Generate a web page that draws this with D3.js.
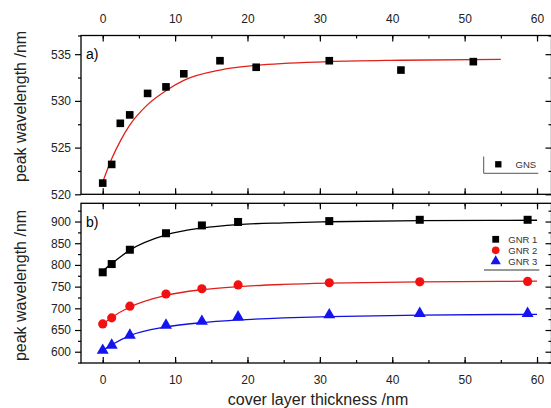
<!DOCTYPE html>
<html>
<head>
<meta charset="utf-8">
<script src="https://cdn.jsdelivr.net/npm/d3@7"></script>
<style>
  body { margin: 0; background: #fff; }
  svg { display: block; font-family: "Liberation Sans", Arial, sans-serif; }
</style>
</head>
<body>
<div id="chart"></div>
<script>
// ---- data ----
var xTicks = [0, 10, 20, 30, 40, 50, 60];

// panel a) GNS
var gnsX = [0, 1.24, 2.43, 3.73, 6.2, 8.74, 11.2, 16.2, 21.2, 31.3, 41.2, 51.2];
var gnsY = [521.2, 523.2, 527.6, 528.5, 530.8, 531.5, 532.9, 534.3, 533.6, 534.3, 533.3, 534.2];
var gnsFitX = [0, 1.24, 2.5, 3.73, 6.2, 8.74, 11.2, 16.2, 21.2, 31.3, 41.2, 55];
var gnsFitY = [521.3, 523.8, 525.8, 527.4, 529.6, 531.1, 532.2, 533.3, 533.8, 534.2, 534.35, 534.45];
var aTicks = [520, 525, 530, 535];

// panel b) GNR 1-3
var gnrX = [0, 1.24, 3.75, 8.74, 13.7, 18.7, 31.3, 43.8, 58.7];
var gnr1 = [783, 802, 835, 873, 891, 899, 901, 904, 904];
var gnr2 = [664, 678, 705, 733, 745, 754, 759, 761, 762];
var gnr3 = [603, 615, 638, 661, 670, 680, 685, 688, 688];
var fitX = [0, 1.24, 3.75, 8.74, 13.7, 18.7, 25, 31.3, 43.8, 60];
var fit1 = [786, 803, 834, 869, 885, 893, 897, 899.5, 902, 903];
var fit2 = [664, 679, 703, 730, 743, 750, 755, 758, 761, 762.5];
var fit3 = [603, 616, 637, 657, 667, 673, 678, 681, 684.5, 686];
var bTicks = [600, 650, 700, 750, 800, 850, 900];

var width = 551, height = 408;
var left = 81, right = 551.5;

var svg = d3.select('#chart').append('svg')
  .attr('width', width)
  .attr('height', height);

var x = d3.scaleLinear().domain([-3, 62]).range([left, right]);
var yA = d3.scaleLinear().domain([520, 537]).range([194.3, 35.5]);
var yB = d3.scaleLinear().domain([574, 942]).range([363, 203.3]);

var minorX = d3.range(-0, 62, 5);

// draws ticks/frame for one panel
function panel(y, major, minor, showTop, showBottom) {
  var top = y.range()[1], bottom = y.range()[0];
  var g = svg.append('g');

  function styleAxis(sel) {
    sel.select('.domain').remove();
    sel.selectAll('line').attr('stroke', '#000').attr('stroke-width', 1.2);
    sel.selectAll('text').attr('font-size', 12).attr('fill', '#222')
      .attr('font-family', '"Liberation Sans", Arial, sans-serif');
  }

  // top axis (ticks inward)
  g.append('g').attr('transform', 'translate(0,' + top + ')')
    .call(d3.axisTop(x).tickValues(xTicks).tickSize(-6).tickPadding(showTop ? 13 : 0)
      .tickFormat(showTop ? d3.format('d') : ''))
    .call(styleAxis);
  g.append('g').attr('transform', 'translate(0,' + top + ')')
    .call(d3.axisTop(x).tickValues(minorX).tickSize(-3).tickFormat(''))
    .call(styleAxis);

  // bottom axis (ticks inward)
  g.append('g').attr('transform', 'translate(0,' + bottom + ')')
    .call(d3.axisBottom(x).tickValues(xTicks).tickSize(-6).tickPadding(showBottom ? 12 : 0)
      .tickFormat(showBottom ? d3.format('d') : ''))
    .call(styleAxis);
  g.append('g').attr('transform', 'translate(0,' + bottom + ')')
    .call(d3.axisBottom(x).tickValues(minorX).tickSize(-3).tickFormat(''))
    .call(styleAxis);

  // left axis (ticks outward)
  g.append('g').attr('transform', 'translate(' + left + ',0)')
    .call(d3.axisLeft(y).tickValues(major).tickSize(6).tickPadding(4).tickFormat(d3.format('d')))
    .call(styleAxis);
  g.append('g').attr('transform', 'translate(' + left + ',0)')
    .call(d3.axisLeft(y).tickValues(minor).tickSize(3).tickFormat(''))
    .call(styleAxis);

  // right axis (ticks inward)
  g.append('g').attr('transform', 'translate(' + right + ',0)')
    .call(d3.axisRight(y).tickValues(major).tickSize(-6).tickFormat(''))
    .call(styleAxis);
  g.append('g').attr('transform', 'translate(' + right + ',0)')
    .call(d3.axisRight(y).tickValues(minor).tickSize(-3).tickFormat(''))
    .call(styleAxis);

  g.append('rect')
    .attr('x', left).attr('y', top)
    .attr('width', right - left).attr('height', bottom - top)
    .attr('fill', 'none').attr('stroke', '#000').attr('stroke-width', 1.3);
}

panel(yA, aTicks, [522.5, 527.5, 532.5, 537], true, false);
panel(yB, bTicks, [575, 625, 675, 725, 775, 825, 875, 925], false, true);

// ---- fit lines ----
function fitLine(xs, ys, y, color) {
  var line = d3.line().curve(d3.curveMonotoneX)
    .x((d, i) => x(xs[i]))
    .y((d, i) => y(ys[i]));
  svg.append('path').datum(ys)
    .attr('d', line)
    .attr('fill', 'none')
    .attr('stroke', color)
    .attr('stroke-width', 1.3);
}

fitLine(gnsFitX, gnsFitY, yA, '#e0201b');
fitLine(fitX, fit1, yB, '#000');
fitLine(fitX, fit2, yB, '#e0201b');
fitLine(fitX, fit3, yB, '#1010e0');

// ---- markers ----
function markers(xs, ys, y, type, size, color) {
  svg.append('g').selectAll('path')
    .data(ys)
    .join('path')
    .attr('transform', (d, i) => 'translate(' + x(xs[i]) + ',' + y(d) + ')')
    .attr('d', d3.symbol().type(type).size(size))
    .attr('fill', color);
}

markers(gnsX, gnsY, yA, d3.symbolSquare, 58, '#000');
markers(gnrX, gnr1, yB, d3.symbolSquare, 64, '#000');
markers(gnrX, gnr2, yB, d3.symbolCircle, 66, '#f21010');
markers(gnrX, gnr3, yB, d3.symbolTriangle, 62, '#1414f0');

// ---- panel labels ----
svg.append('text').attr('x', 86).attr('y', 59).attr('font-size', 14).text('a)');
svg.append('text').attr('x', 86).attr('y', 227).attr('font-size', 14).text('b)');

// ---- legends ----
var legA = svg.append('g');
legA.append('path')
  .attr('d', 'M483.7,156.5 V173.3 H538.3')
  .attr('fill', 'none').attr('stroke', '#555').attr('stroke-width', 1);
legA.append('path')
  .attr('transform', 'translate(498.3,164.3)')
  .attr('d', d3.symbol().type(d3.symbolSquare).size(40))
  .attr('fill', '#000');
legA.append('text').attr('x', 515.5).attr('y', 168.3)
  .attr('font-size', 9.5).attr('fill', '#333').text('GNS');

var legNames = ['GNR 1', 'GNR 2', 'GNR 3'];
var legTypes = [d3.symbolSquare, d3.symbolCircle, d3.symbolTriangle];
var legColors = ['#000', '#f21010', '#1414f0'];
var legB = svg.append('g');
legNames.forEach(function (name, i) {
  var yy = 239.3 + i * 11;
  legB.append('path')
    .attr('transform', 'translate(495.7,' + yy + ')')
    .attr('d', d3.symbol().type(legTypes[i]).size(46))
    .attr('fill', legColors[i]);
  legB.append('text').attr('x', 508.3).attr('y', yy + 3.5)
    .attr('font-size', 9.5).attr('fill', '#333').text(name);
});
legB.append('line')
  .attr('x1', 484).attr('x2', 539.3).attr('y1', 270).attr('y2', 270)
  .attr('stroke', '#333').attr('stroke-width', 1);

// ---- axis titles ----
svg.append('text')
  .attr('transform', 'translate(26,' + 106.5 + ') rotate(-90)')
  .attr('text-anchor', 'middle').attr('font-size', 16).attr('fill', '#222')
  .text('peak wavelength /nm');
svg.append('text')
  .attr('transform', 'translate(26,' + 285.5 + ') rotate(-90)')
  .attr('text-anchor', 'middle').attr('font-size', 16).attr('fill', '#222')
  .text('peak wavelength /nm');
svg.append('text')
  .attr('x', 318).attr('y', 405)
  .attr('text-anchor', 'middle').attr('font-size', 16).attr('fill', '#222')
  .text('cover layer thickness /nm');
</script>
</body>
</html>
